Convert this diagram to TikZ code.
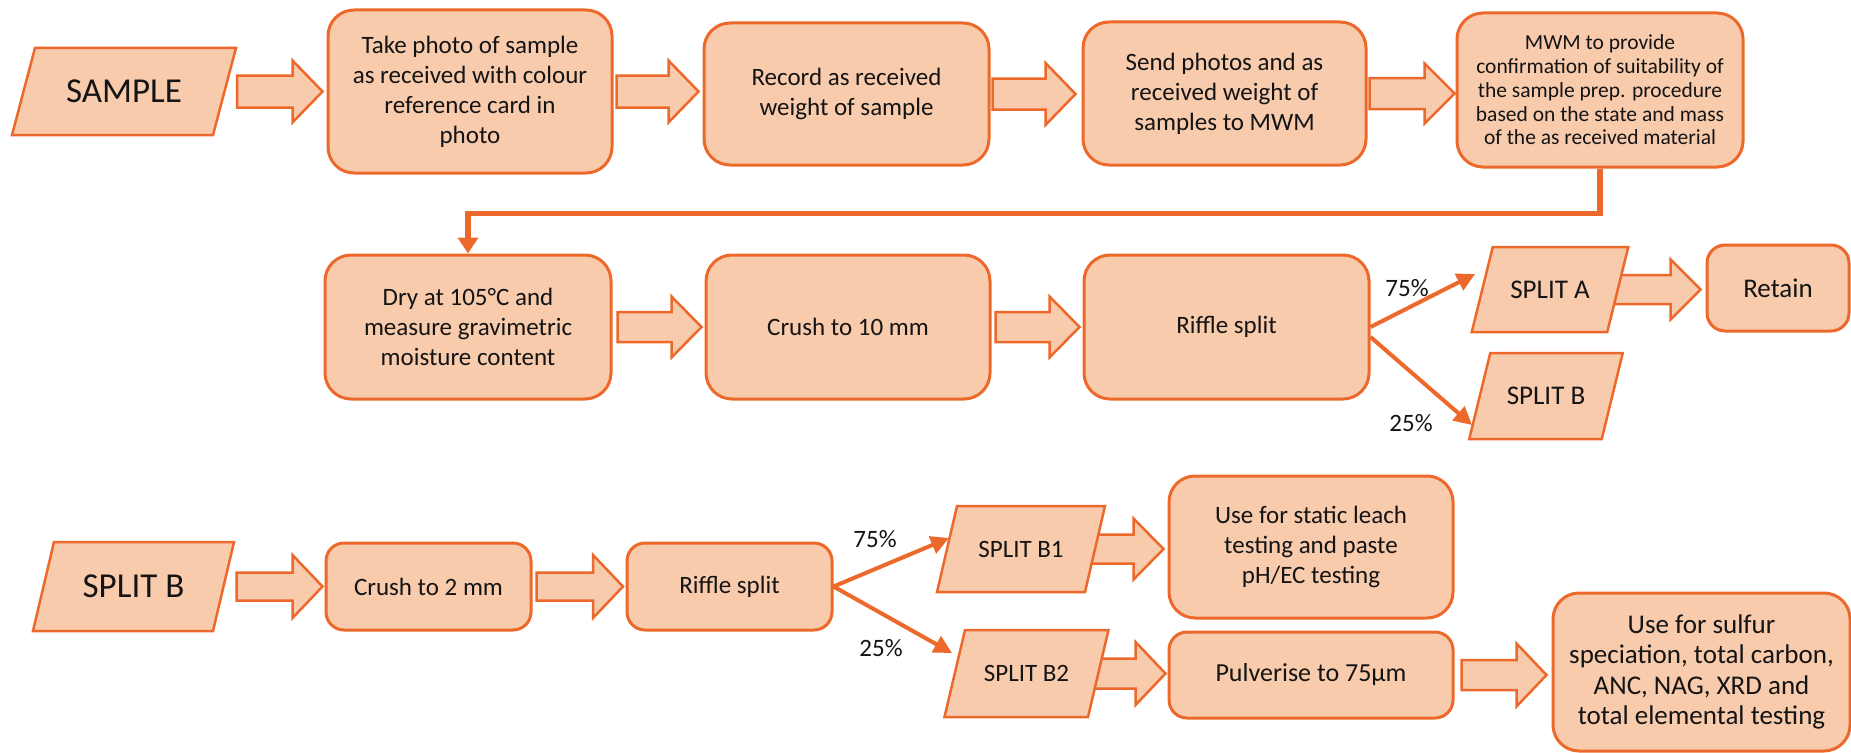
\documentclass[tikz,border=0pt]{standalone}
\usepackage{fontspec}
\setmainfont{Carlito}
\usetikzlibrary{arrows.meta,calc}
\pgfdeclarelayer{bg}
\pgfsetlayers{bg,main}
\definecolor{ora}{RGB}{237,104,43}
\definecolor{peach}{RGB}{248,203,173}
\definecolor{txt}{RGB}{20,20,20}
\tikzset{
  box/.style={draw=ora, fill=peach, line width=3pt, rounded corners=26pt, align=center, inner sep=0pt, text=txt, font=\fontsize{25}{30}\selectfont},
  smallbox/.style={box, rounded corners=18pt},
  paratxt/.style={inner sep=0pt, align=center, text=txt, font=\fontsize{25}{30}\selectfont},
  parashape/.style={draw=ora, fill=peach, line width=2.5pt, line join=miter},
  blkstyle/.style={draw=ora, fill=peach, line width=2.5pt, line join=miter},
  conn/.style={draw=ora, line width=5.5pt, -{Triangle[length=16pt,width=20pt]}},
  splitarr/.style={draw=ora, line width=4pt, -{Triangle[length=18pt,width=18pt]}},
  pct/.style={text=txt, font=\fontsize{25}{30}\selectfont, inner sep=0pt},
}
% #1 from, #2 to, #3 shaft half height, #4 head half height
\newcommand{\blockarr}[4]{%
  \draw[blkstyle] let \p1=(#1), \p2=(#2) in
    (\x1,\y1+#3pt) -- (\x2-30pt,\y1+#3pt) -- (\x2-30pt,\y1+#4pt) -- (\x2,\y1)
    -- (\x2-30pt,\y1-#4pt) -- (\x2-30pt,\y1-#3pt) -- (\x1,\y1-#3pt) -- cycle;}
% #1 name, #2 cx, #3 cy, #4 w, #5 h, #6 slant, #7 text
\newcommand{\paragram}[7]{%
  \draw[parashape] ({#2-#4/2},{#3+#5/2}) -- ({#2+#4/2-#6},{#3+#5/2})
    -- ({#2+#4/2},{#3-#5/2}) -- ({#2-#4/2+#6},{#3-#5/2}) -- cycle;
  \node[paratxt, minimum width=#4pt, minimum height=#5pt] (#1) at (#2,#3) {#7};}
\begin{document}
\begin{tikzpicture}[x=1pt,y=-1pt]
\useasboundingbox (0,0) rectangle (1851,752);

% Row 1
\paragram{sample}{124}{91.5}{224}{87}{23}{\fontsize{35}{40}\selectfont SAMPLE}
\node[box, minimum width=284pt, minimum height=163pt] (b1) at (470,91.5) {Take photo of sample\\as received with colour\\reference card in\\photo};
\node[box, minimum width=285pt, minimum height=142pt] (b2) at (846.5,94) {Record as received\\weight of sample};
\node[box, minimum width=283pt, minimum height=143pt] (b3) at (1224.5,93.5) {Send photos and as\\received weight of\\samples to MWM};
\node[box, minimum width=286pt, minimum height=154pt, font=\fontsize{21.5}{23.7}\selectfont] (b4) at (1600,90) {MWM to provide\\confirmation of suitability of\\the sample prep. procedure\\based on the state and mass\\of the as received material};

% Row 2
\node[box, minimum width=286pt, minimum height=144pt] (b5) at (468,327) {Dry at 105°C and\\measure gravimetric\\moisture content};
\node[box, minimum width=284pt, minimum height=144pt] (b6) at (848,327) {Crush to 10 mm};
\node[box, minimum width=285pt, minimum height=144pt] (b7) at (1226.5,327) {Riffle split};
\paragram{sa}{1550}{289.5}{156.5}{85}{21}{\fontsize{27}{30}\selectfont SPLIT A}
\node[smallbox, minimum width=142pt, minimum height=86pt, font=\fontsize{27}{30}\selectfont] (ret) at (1778,288) {Retain};
\paragram{sb}{1546}{396}{153.5}{86}{21}{\fontsize{27}{30}\selectfont SPLIT B}

% Row 3
\paragram{sbig}{133.5}{586.5}{201}{89}{21}{\fontsize{35}{40}\selectfont SPLIT B}
\node[smallbox, minimum width=205pt, minimum height=87pt] (c2) at (428.5,586.5) {Crush to 2 mm};
\node[smallbox, minimum width=205pt, minimum height=87pt] (r2) at (729.5,586.5) {Riffle split};
\paragram{bone}{1021}{549}{168}{86}{20}{SPLIT B1}
\node[box, minimum width=284pt, minimum height=142pt] (st) at (1311,547) {Use for static leach\\testing and paste\\pH/EC testing};
\paragram{btwo}{1026.5}{673.5}{164}{87}{20.5}{SPLIT B2}
\node[smallbox, minimum width=284pt, minimum height=86pt, font=\fontsize{26}{30}\selectfont] (pv) at (1311,675) {Pulverise to 75µm};
\node[box, minimum width=297pt, minimum height=158pt, font=\fontsize{27}{30.5}\selectfont] (su) at (1701.5,672) {Use for sulfur\\speciation, total carbon,\\ANC, NAG, XRD and\\total elemental testing};

% block arrows
\begin{pgfonlayer}{bg}
\blockarr{[xshift=1pt]sample.east}{[xshift=-4pt]b1.west}{16}{31}
\blockarr{[xshift=3pt]b1.east}{[xshift=-4pt]b2.west}{16}{31}
\blockarr{[xshift=2pt]b2.east}{[xshift=-6pt]b3.west}{15.5}{31}
\blockarr{[xshift=2pt]b3.east}{[xshift=-1pt]b4.west}{15.5}{30}
\blockarr{[xshift=5pt]b5.east}{[xshift=-3pt]b6.west}{15}{30.5}
\blockarr{[xshift=4pt]b6.east}{[xshift=-3pt]b7.west}{15}{30.5}
\blockarr{[xshift=-14pt]sa.east}{[xshift=-5pt]ret.west}{14.5}{30}
\blockarr{[xshift=2.5pt]sbig.east}{[xshift=-2pt]c2.west}{14}{31.5}
\blockarr{[xshift=4pt]c2.east}{[xshift=-2.5pt]r2.west}{14}{31.5}
\blockarr{[xshift=-14pt]bone.east}{[xshift=-4pt]st.west}{14.5}{30.5}
\blockarr{[xshift=-14pt]btwo.east}{[xshift=-2pt]pv.west}{15}{31.5}
\blockarr{[xshift=7pt]pv.east}{[xshift=-5pt]su.west}{15}{31.5}
\end{pgfonlayer}

% connectors
\draw[conn] (b4.south) -- ++(0,45) -| (b5.north);
\draw[splitarr] (b7.east) -- ($(sa.center)+(-75,-15.5)$);
\draw[splitarr] ($(b7.east)+(0,10)$) -- ($(sb.center)+(-74,29)$);
\draw[splitarr] (r2.east) -- ($(bone.center)+(-72,-11)$);
\draw[splitarr] (r2.east) -- ($(btwo.center)+(-74.5,-20.5)$);

% labels
\node[pct] (l1) at (1407,288) {75\%};
\node[pct] (l2) at (1411,423) {25\%};
\node[pct] (l3) at (875,539) {75\%};
\node[pct] (l4) at (881,648) {25\%};
\end{tikzpicture}
\end{document}
